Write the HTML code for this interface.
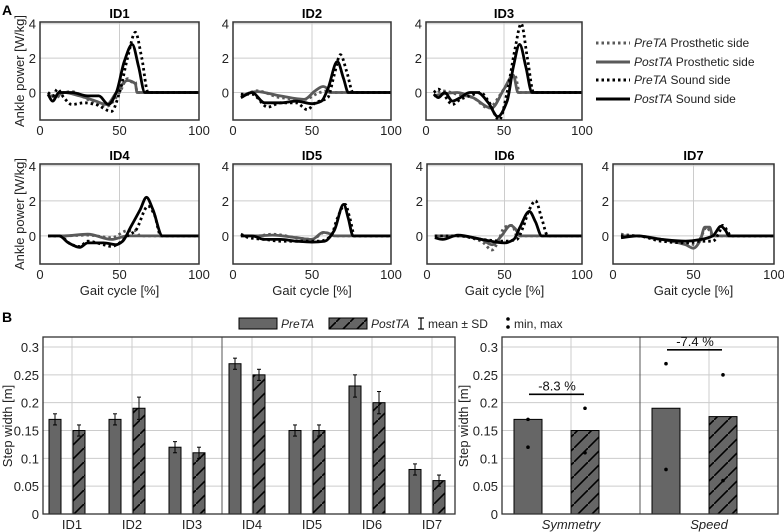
<!DOCTYPE html>
<html><head><meta charset="utf-8"><style>
body{margin:0;background:#fff}
svg{display:block;font-family:"Liberation Sans",Arial,sans-serif}
</style></head><body>
<svg id="fig" width="784" height="532" viewBox="0 0 784 532" xmlns="http://www.w3.org/2000/svg">
<defs>
<pattern id="hatch" patternUnits="userSpaceOnUse" width="14" height="14" patternTransform="translate(0,0)">
<rect width="14" height="14" fill="#666"/>
<path d="M-2,16 L16,-2" stroke="#000" stroke-width="1.6"/>
</pattern>
</defs>
<text x="2" y="15" font-size="14" font-weight="bold">A</text>
<text x="2" y="322" font-size="14" font-weight="bold">B</text>
</svg>
<script>
const NS="http://www.w3.org/2000/svg";
const svg=document.getElementById('fig');
function mk(tag,attrs,parent){const e=document.createElementNS(NS,tag);for(const k in attrs)e.setAttribute(k,attrs[k]);(parent||svg).appendChild(e);return e;}

// ===== Panel A data =====
const panelTitles=["ID1","ID2","ID3","ID4","ID5","ID6","ID7"];
const xTicks=[0,50,100];
const yTicks=[0,2,4];
const preProsX=[
[5,10,15,20,30,42,50,55,58,60,61,100],
[5,15,30,45,55,60,62,100],
[5,10,20,30,40,50,57,60,100],
[5,15,30,45,55,60,63,100],
[5,15,25,40,50,58,62,64,100],
[5,20,35,42,46,50,55,58,100],
[5,15,30,45,52,55,58,60,62,100]];
const preProsY=[
[0,-0.3,0,0.05,-0.4,-0.8,0,0.8,0.6,0.6,0,0],
[-0.3,0.1,-0.3,-0.4,0,0.1,0,0],
[-0.2,0.1,-0.1,-0.3,-0.9,0.2,1,0,0],
[0,0,0.05,-0.1,0.3,0.3,0,0],
[0,0,0.1,-0.1,-0.2,0.2,0.1,0,0],
[0,0,-0.3,-0.8,-0.3,0.5,0.6,0,0],
[0.1,0,-0.2,-0.4,-0.5,0,0.5,0.3,0,0]];
const postProsX=[
[5,10,15,25,35,42,48,55,60,61,100],
[5,15,30,45,52,57,60,61,100],
[5,10,20,30,42,50,56,59,100],
[5,15,30,45,55,62,100],
[5,15,25,40,50,57,62,64,100],
[5,20,35,42,48,54,57,60,100],
[5,15,30,45,50,54,57,60,62,100]];
const postProsY=[
[-0.2,-0.2,0,-0.2,-0.5,-0.7,0,0.7,0.5,0,0],
[-0.2,0.05,-0.2,-0.4,0.1,0.35,0.2,0,0],
[-0.2,-0.1,0,-0.3,-0.9,0.2,1,0,0],
[0,0,0.1,-0.2,0,0,0],
[0,0,0.05,-0.1,-0.2,0.2,0.1,0,0],
[0,0,-0.2,-0.5,0,0.6,0.4,0,0],
[0,0,-0.2,-0.5,-0.7,-0.3,0.5,0.5,0,0]];
const preSoundX=[
[5,8,11,15,20,28,35,45,50,55,60,64,68,100],
[5,12,22,30,40,47,52,60,64,68,72,76,100],
[5,8,12,17,22,28,35,40,47,52,57,61,65,69,100],
[5,12,20,25,30,40,45,50,55,60,68,72,76,100],
[5,10,20,30,45,55,62,66,71,74,77,100],
[5,20,35,50,58,62,66,70,74,78,100],
[5,15,30,45,55,62,66,68,71,73,100]];
const preSoundY=[
[0,-0.2,0.2,-0.3,-0.7,-0.6,-0.7,-1.1,0,2,3.5,2,0,0],
[-0.1,-0.1,-0.85,-0.6,-0.6,-1,-0.6,-0.3,1,2.2,1.2,0,0],
[0,0.2,-0.2,-0.7,-0.4,-0.2,0,-0.5,-1.6,0,2.5,4,2,0,0],
[0,0,-0.5,-0.6,-0.3,-0.5,-0.6,-0.4,0,0.3,1.7,1.2,0,0],
[0.1,-0.1,-0.2,-0.3,-0.3,-0.3,0,1,1.8,1,0,0],
[0,0,-0.2,-0.3,-0.2,0.5,1.5,2,1,0,0],
[0,0,-0.3,-0.4,-0.3,-0.3,0.2,0.6,0.3,0,0]];
const postSoundX=[
[5,8,12,20,30,37,43,48,53,58,62,66,100],
[5,12,20,30,40,50,56,60,66,70,73,100],
[5,8,12,17,22,28,33,40,46,52,56,60,64,68,100],
[5,12,18,25,30,40,48,52,57,63,67,71,77,100],
[5,12,20,30,40,50,58,64,70,73,76,100],
[5,10,20,35,50,56,60,66,70,74,100],
[5,15,30,45,55,62,67,70,72,100]];
const postSoundY=[
[-0.1,-0.5,0,0,-0.2,-0.2,-0.7,0,1.8,2.8,1.5,0,0],
[-0.3,0,-0.6,-0.6,-0.5,-0.65,-0.5,0.2,1.8,0.8,0,0],
[-0.1,-0.3,0,-0.5,-0.3,0,0,-0.6,-1.4,-0.5,1.5,2.8,1.5,0,0],
[0,0,-0.4,-0.65,-0.4,-0.4,-0.5,-0.3,0.5,1.5,2.2,1.5,0,0],
[0,0,-0.2,-0.2,-0.3,-0.35,-0.3,0.3,1.8,1,0,0],
[-0.1,-0.2,0.05,-0.2,-0.4,-0.2,0.5,1.4,0.8,0,0],
[-0.1,0,-0.2,-0.3,-0.2,0,0.55,0.3,0,0]];

const boxes=[[40,22,199,120],[233,22,391,120],[426,22,582,120],[40,164,199,264],[233,164,391,264],[427,164,582,264],[613,164,774,264]];
const yMin=-1.6,yMax=4.1;

// monotone cubic (Fritsch-Carlson) to avoid overshoot
function smooth(pts){
  const n=pts.length;
  const dx=[],m=[],t=[];
  for(let i=0;i<n-1;i++){dx[i]=pts[i+1][0]-pts[i][0];m[i]=(pts[i+1][1]-pts[i][1])/dx[i];}
  t[0]=m[0];t[n-1]=m[n-2];
  for(let i=1;i<n-1;i++){
    if(m[i-1]*m[i]<=0)t[i]=0;
    else{const w1=2*dx[i]+dx[i-1],w2=dx[i]+2*dx[i-1];t[i]=(w1+w2)/(w1/m[i-1]+w2/m[i]);}
  }
  let d="M"+pts[0][0].toFixed(1)+","+pts[0][1].toFixed(1);
  for(let i=0;i<n-1;i++){
    const h=dx[i]/3;
    d+=" C"+(pts[i][0]+h).toFixed(1)+","+(pts[i][1]+t[i]*h).toFixed(1)+" "+(pts[i+1][0]-h).toFixed(1)+","+(pts[i+1][1]-t[i+1]*h).toFixed(1)+" "+pts[i+1][0].toFixed(1)+","+pts[i+1][1].toFixed(1);
  }
  return d;
}

const seriesDefs=[
 {xs:preProsX,ys:preProsY,color:"#5a5a5a",dash:"2.5,3",name:"pre-prosthetic-line"},
 {xs:postProsX,ys:postProsY,color:"#5a5a5a",dash:"",name:"post-prosthetic-line"},
 {xs:preSoundX,ys:preSoundY,color:"#000",dash:"2.5,3",name:"pre-sound-line"},
 {xs:postSoundX,ys:postSoundY,color:"#000",dash:"",name:"post-sound-line"}];

boxes.forEach((b,p)=>{
  const [x0,y0,x1,y1]=b;
  const sx=v=>x0+(v-0)/100*(x1-x0);
  const sy=v=>y1-(v-yMin)/(yMax-yMin)*(y1-y0);
  const g=mk('g',{});
  
  
  xTicks.forEach(t=>{mk('line',{x1:sx(t),x2:sx(t),y1:y0,y2:y1,stroke:"#ccc","stroke-width":1},g);});
  yTicks.forEach(t=>{mk('line',{x1:x0,x2:x1,y1:sy(t),y2:sy(t),stroke:"#ccc","stroke-width":1},g);});
  const clipId='clip'+p;
  const cp=mk('clipPath',{id:clipId},g);mk('rect',{x:x0,y:y0,width:x1-x0,height:y1-y0},cp);
  seriesDefs.forEach(s=>{
    const pts=s.xs[p].map((x,i)=>[sx(x),sy(s.ys[p][i])]);
    const path=mk('path',{d:smooth(pts),fill:"none",stroke:s.color,"stroke-width":2.8,"stroke-dasharray":s.dash,"clip-path":"url(#"+clipId+")"},g);
    
    
  });
  mk('rect',{x:x0,y:y0,width:x1-x0,height:y1-y0,fill:"none",stroke:"#333","stroke-width":1.5},g);
  xTicks.forEach(t=>{const tx=mk('text',{x:sx(t),y:y1+15,"font-size":13,"text-anchor":"middle",fill:"#222"},g);tx.textContent=t;});
  yTicks.forEach(t=>{const tx=mk('text',{x:x0-4,y:sy(t)+5,"font-size":13,"text-anchor":"end",fill:"#222"},g);tx.textContent=t;});
  const title=mk('text',{x:(x0+x1)/2,y:y0-4,"font-size":13,"font-weight":"bold","text-anchor":"middle"},g);
  title.textContent=panelTitles[p];
  if(p>=3){const xl=mk('text',{x:(x0+x1)/2,y:y1+31,"font-size":13,"text-anchor":"middle",fill:"#222"},g);xl.textContent="Gait cycle [%]";}
});
[[71],[214]].forEach((c,i)=>{
  const t=mk('text',{x:0,y:0,"font-size":13,"text-anchor":"middle",fill:"#222",transform:"translate(24,"+c[0]+") rotate(-90)"});
  t.textContent="Ankle power [W/kg]";
  
  
});
const legA=[["PreTA"," Prosthetic side","#5a5a5a","2.5,3"],["PostTA"," Prosthetic side","#5a5a5a",""],["PreTA"," Sound side","#000","2.5,3"],["PostTA"," Sound side","#000",""]];
const legY=[43,62,80,99];
legA.forEach((L,i)=>{
  const g=mk('g',{});
  
  
  mk('line',{x1:596,x2:630,y1:legY[i],y2:legY[i],stroke:L[2],"stroke-width":3,"stroke-dasharray":L[3]},g);
  const t=mk('text',{x:634,y:legY[i]+4,"font-size":12,fill:"#222"},g);
  const a=mk('tspan',{"font-style":"italic"},t);a.textContent=L[0];
  const b=mk('tspan',{},t);b.textContent=L[1];
});

// ===== Panel B data =====
const idCats=["ID1","ID2","ID3","ID4","ID5","ID6","ID7"];
const preMean=[0.17,0.17,0.12,0.27,0.15,0.23,0.08];
const postMean=[0.15,0.19,0.11,0.25,0.15,0.20,0.06];
const preSD=[0.01,0.01,0.01,0.01,0.01,0.02,0.01];
const postSD=[0.01,0.02,0.01,0.01,0.01,0.02,0.01];
const bTicks=[0,0.05,0.1,0.15,0.2,0.25,0.3];
const bTickLabels=["0","0.05","0.1","0.15","0.2","0.25","0.3"];
const grpCats=["Symmetry","Speed"];
const grpPre=[0.17,0.19];
const grpPost=[0.15,0.175];
const grpPreMin=[0.12,0.08], grpPreMax=[0.17,0.27];
const grpPostMin=[0.11,0.06], grpPostMax=[0.19,0.25];
const grpChange=["-8.3 %","-7.4 %"];
const grpBracketY=[0.215,0.295];

const bY0=337,bY1=514,bYMax=0.318;
const by=v=>bY1-v/bYMax*(bY1-bY0);

(function(){
  const x0=43,x1=455;
  const bx=i=>72+i*60;
  const g=mk('g',{});
  
  
  bTicks.forEach(t=>{mk('line',{x1:x0,x2:x1,y1:by(t),y2:by(t),stroke:"#ccc","stroke-width":1},g);});
  idCats.forEach((c,i)=>{mk('line',{x1:bx(i),x2:bx(i),y1:bY0,y2:bY1,stroke:"#ccc","stroke-width":1},g);});
  mk('line',{x1:222,x2:222,y1:bY0,y2:bY1,stroke:"#555","stroke-width":1},g);
  idCats.forEach((c,i)=>{
    [[preMean,preSD,-17,"#666","pre"],[postMean,postSD,7,"url(#hatch)","post"]].forEach(s=>{
      const cx=bx(i)+s[2],v=s[0][i],sd=s[1][i];
      const r=mk('rect',{x:cx-6,y:by(v),width:12,height:bY1-by(v),fill:s[3],stroke:"#000","stroke-width":1},g);
      
      
      mk('line',{x1:cx,x2:cx,y1:by(v+sd),y2:by(v-sd),stroke:"#000","stroke-width":1},g);
      mk('line',{x1:cx-2,x2:cx+2,y1:by(v+sd),y2:by(v+sd),stroke:"#000","stroke-width":1},g);
      mk('line',{x1:cx-2,x2:cx+2,y1:by(v-sd),y2:by(v-sd),stroke:"#000","stroke-width":1},g);
    });
    const t=mk('text',{x:bx(i),y:bY1+15,"font-size":13,"text-anchor":"middle",fill:"#222"},g);t.textContent=c;
  });
  mk('rect',{x:x0,y:bY0,width:x1-x0,height:bY1-bY0,fill:"none",stroke:"#333","stroke-width":1.3},g);
  bTicks.forEach((t,i)=>{const tx=mk('text',{x:x0-4,y:by(t)+5,"font-size":13,"text-anchor":"end",fill:"#222"},g);tx.textContent=bTickLabels[i];});
  const yl=mk('text',{x:0,y:0,"font-size":13,"text-anchor":"middle",fill:"#222",transform:"translate(12,426) rotate(-90)"},g);yl.textContent="Step width [m]";
})();
(function(){
  const x0=502,x1=778;
  const bx=i=>571+i*138;
  const g=mk('g',{});
  
  
  bTicks.forEach(t=>{mk('line',{x1:x0,x2:x1,y1:by(t),y2:by(t),stroke:"#ccc","stroke-width":1},g);});
  grpCats.forEach((c,i)=>{mk('line',{x1:bx(i),x2:bx(i),y1:bY0,y2:bY1,stroke:"#ccc","stroke-width":1},g);});
  mk('line',{x1:640,x2:640,y1:bY0,y2:bY1,stroke:"#555","stroke-width":1},g);
  grpCats.forEach((c,i)=>{
    [[grpPre,grpPreMin,grpPreMax,-43,"#666","pre"],[grpPost,grpPostMin,grpPostMax,14,"url(#hatch)","post"]].forEach(s=>{
      const cx=bx(i)+s[3],v=s[0][i];
      const r=mk('rect',{x:cx-14,y:by(v),width:28,height:bY1-by(v),fill:s[4],stroke:"#000","stroke-width":1},g);
      
      
      mk('circle',{cx:cx,cy:by(s[1][i]),r:1.8,fill:"#000"},g);
      mk('circle',{cx:cx,cy:by(s[2][i]),r:1.8,fill:"#000"},g);
    });
    const yb=by(grpBracketY[i]);
    mk('line',{x1:bx(i)-42,x2:bx(i)+13,y1:yb,y2:yb,stroke:"#000","stroke-width":1.6},g);
    const ct=mk('text',{x:bx(i)-14,y:yb-4,"font-size":13,"text-anchor":"middle",fill:"#111"},g);ct.textContent=grpChange[i];
    const t=mk('text',{x:bx(i),y:bY1+15,"font-size":13,"text-anchor":"middle","font-style":"italic",fill:"#222"},g);t.textContent=c;
  });
  mk('rect',{x:x0,y:bY0,width:x1-x0,height:bY1-bY0,fill:"none",stroke:"#333","stroke-width":1.3},g);
  bTicks.forEach((t,i)=>{const tx=mk('text',{x:x0-4,y:by(t)+5,"font-size":13,"text-anchor":"end",fill:"#222"},g);tx.textContent=bTickLabels[i];});
  const yl=mk('text',{x:0,y:0,"font-size":13,"text-anchor":"middle",fill:"#222",transform:"translate(468,426) rotate(-90)"},g);yl.textContent="Step width [m]";
})();
(function(){
  const g=mk('g',{});
  
  
  mk('rect',{x:239,y:318,width:38,height:11,fill:"#666",stroke:"#000","stroke-width":1},g);
  let t=mk('text',{x:281,y:328,"font-size":12,"font-style":"italic",fill:"#222"},g);t.textContent="PreTA";
  mk('rect',{x:329,y:318,width:38,height:11,fill:"url(#hatch)",stroke:"#000","stroke-width":1},g);
  t=mk('text',{x:371,y:328,"font-size":12,"font-style":"italic",fill:"#222"},g);t.textContent="PostTA";
  mk('line',{x1:421,x2:421,y1:318,y2:329,stroke:"#000","stroke-width":1.2},g);
  mk('line',{x1:418,x2:424,y1:318,y2:318,stroke:"#000","stroke-width":1.2},g);
  mk('line',{x1:418,x2:424,y1:329,y2:329,stroke:"#000","stroke-width":1.2},g);
  t=mk('text',{x:428,y:328,"font-size":12,fill:"#222"},g);t.textContent="mean ± SD";
  mk('circle',{cx:508,cy:319,r:1.8,fill:"#000"},g);
  mk('circle',{cx:508,cy:327,r:1.8,fill:"#000"},g);
  t=mk('text',{x:514,y:328,"font-size":12,fill:"#222"},g);t.textContent="min, max";
})();
</script>
</body></html>
